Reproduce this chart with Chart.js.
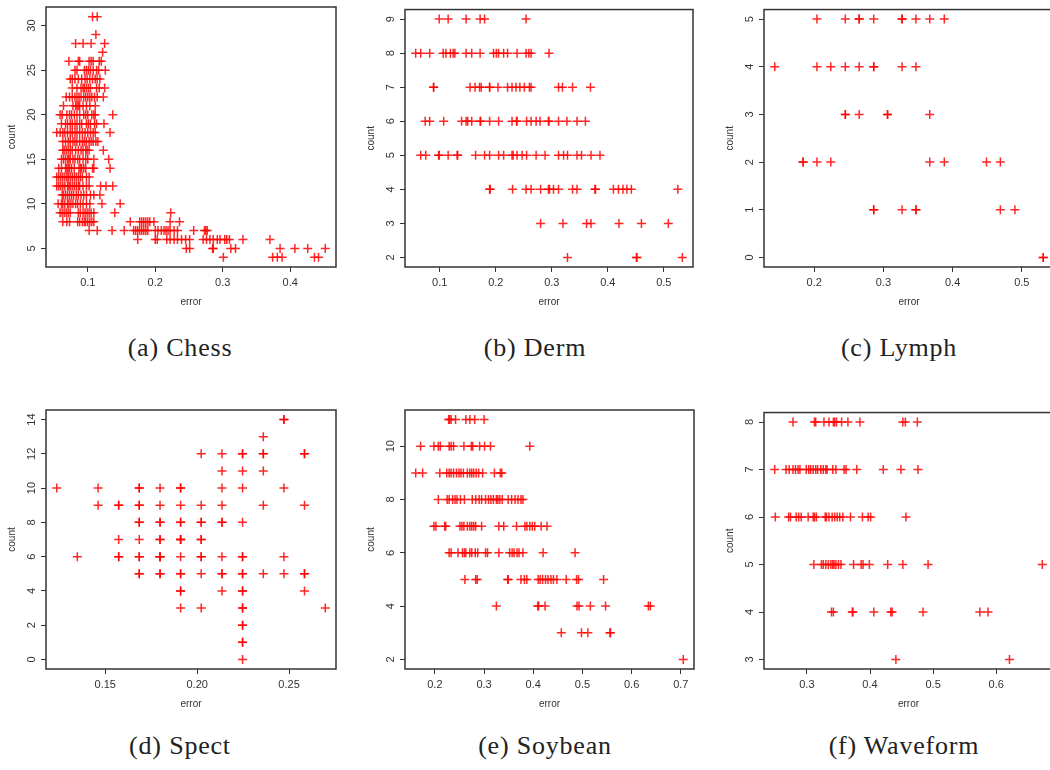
<!DOCTYPE html>
<html>
<head>
<meta charset="utf-8">
<script src="https://cdn.jsdelivr.net/npm/chart.js@4"></script>
<style>
    body { margin: 0; background: #fff; width: 1050px; height: 770px; overflow: hidden; position: relative; }
    .panel { position: absolute; }
    .caption {
        position: absolute; width: 340px; text-align: center;
        font-family: 'Liberation Serif', serif; font-size: 26px; line-height: 30px;
        letter-spacing: 0.8px; color: #222;
    }
</style>
</head>
<body>
<script>
// (a) Chess
const chessCounts = [31, 29, 28, 27, 26, 25, 24, 23, 22, 21, 20, 19, 18, 17, 16, 15, 14, 13, 12, 11, 10, 9, 8, 7, 6, 5, 4];
const chessErrors = [
    [0.107, 0.114],
    [0.112],
    [0.082, 0.093, 0.105, 0.125],
    [0.122],
    [0.072, 0.086, 0.088, 0.102, 0.105, 0.108, 0.117, 0.120],
    [0.081, 0.084, 0.095, 0.098, 0.101, 0.104, 0.108, 0.113, 0.116, 0.126],
    [0.074, 0.077, 0.081, 0.086, 0.091, 0.096, 0.099, 0.103, 0.107, 0.111, 0.114, 0.118],
    [0.077, 0.084, 0.090, 0.093, 0.095, 0.098, 0.101, 0.104, 0.113, 0.117, 0.125],
    [0.068, 0.073, 0.077, 0.081, 0.084, 0.087, 0.090, 0.094, 0.097, 0.100, 0.103, 0.106, 0.110, 0.114, 0.123],
    [0.064, 0.078, 0.082, 0.084, 0.086, 0.088, 0.093, 0.098, 0.103, 0.111],
    [0.059, 0.062, 0.069, 0.073, 0.076, 0.080, 0.084, 0.088, 0.094, 0.097, 0.100, 0.106, 0.109, 0.111, 0.137],
    [0.061, 0.067, 0.070, 0.074, 0.077, 0.081, 0.084, 0.088, 0.091, 0.098, 0.101, 0.104, 0.110, 0.113, 0.124],
    [0.054, 0.059, 0.063, 0.066, 0.070, 0.074, 0.077, 0.081, 0.084, 0.088, 0.092, 0.096, 0.100, 0.104, 0.108, 0.111, 0.133],
    [0.063, 0.067, 0.071, 0.074, 0.078, 0.081, 0.084, 0.088, 0.092, 0.095, 0.098, 0.102, 0.105, 0.108, 0.112, 0.115],
    [0.063, 0.065, 0.068, 0.071, 0.074, 0.077, 0.082, 0.086, 0.090, 0.093, 0.097, 0.099, 0.102, 0.123],
    [0.061, 0.064, 0.067, 0.070, 0.072, 0.074, 0.078, 0.081, 0.085, 0.088, 0.093, 0.097, 0.100, 0.109, 0.131],
    [0.057, 0.061, 0.067, 0.069, 0.071, 0.073, 0.076, 0.080, 0.087, 0.089, 0.091, 0.094, 0.097, 0.107, 0.109, 0.133],
    [0.054, 0.057, 0.060, 0.063, 0.066, 0.069, 0.071, 0.074, 0.077, 0.080, 0.083, 0.086, 0.089, 0.092, 0.098, 0.102],
    [0.054, 0.057, 0.060, 0.063, 0.066, 0.070, 0.072, 0.074, 0.077, 0.080, 0.083, 0.086, 0.088, 0.093, 0.098, 0.102, 0.119, 0.127, 0.137],
    [0.062, 0.064, 0.067, 0.070, 0.073, 0.076, 0.079, 0.083, 0.086, 0.090, 0.094, 0.098, 0.104, 0.109, 0.118],
    [0.056, 0.061, 0.063, 0.066, 0.070, 0.072, 0.075, 0.078, 0.082, 0.085, 0.089, 0.093, 0.098, 0.103, 0.121, 0.148],
    [0.059, 0.062, 0.065, 0.068, 0.071, 0.074, 0.086, 0.089, 0.093, 0.096, 0.099, 0.102, 0.105, 0.109, 0.140, 0.223],
    [0.063, 0.069, 0.073, 0.085, 0.088, 0.092, 0.095, 0.097, 0.100, 0.103, 0.106, 0.109, 0.163, 0.177, 0.180, 0.183, 0.186, 0.189, 0.192, 0.198, 0.222, 0.236],
    [0.102, 0.114, 0.136, 0.154, 0.168, 0.171, 0.174, 0.177, 0.180, 0.183, 0.186, 0.189, 0.200, 0.204, 0.209, 0.213, 0.216, 0.219, 0.222, 0.228, 0.233, 0.257, 0.273, 0.275, 0.277],
    [0.174, 0.200, 0.203, 0.217, 0.222, 0.228, 0.233, 0.239, 0.245, 0.251, 0.271, 0.276, 0.281, 0.286, 0.292, 0.296, 0.303, 0.306, 0.310, 0.330, 0.370],
    [0.246, 0.251, 0.285, 0.286, 0.312, 0.319, 0.385, 0.407, 0.426, 0.452],
    [0.301, 0.374, 0.381, 0.388, 0.436, 0.442]
];
const chessXTicks = ['0.1', '0.2', '0.3', '0.4'];
const chessYTicks = ['5', '10', '15', '20', '25', '30'];

// (b) Derm
const dermCounts = [9, 8, 7, 6, 5, 4, 3, 2];
const dermErrors = [
    [0.099, 0.115, 0.147, 0.172, 0.180, 0.254],
    [0.057, 0.066, 0.082, 0.106, 0.111, 0.119, 0.124, 0.127, 0.147, 0.157, 0.172, 0.196, 0.201, 0.205, 0.214, 0.221, 0.238, 0.254, 0.259, 0.263, 0.295],
    [0.089, 0.089, 0.154, 0.163, 0.171, 0.174, 0.189, 0.189, 0.204, 0.221, 0.229, 0.236, 0.243, 0.251, 0.260, 0.263, 0.312, 0.319, 0.337, 0.369],
    [0.074, 0.082, 0.107, 0.139, 0.147, 0.150, 0.157, 0.172, 0.173, 0.189, 0.205, 0.229, 0.237, 0.238, 0.255, 0.263, 0.272, 0.279, 0.294, 0.295, 0.312, 0.327, 0.345, 0.360],
    [0.066, 0.075, 0.098, 0.099, 0.115, 0.131, 0.132, 0.164, 0.180, 0.189, 0.205, 0.214, 0.229, 0.231, 0.238, 0.247, 0.255, 0.272, 0.288, 0.312, 0.321, 0.328, 0.345, 0.353, 0.370, 0.386],
    [0.189, 0.190, 0.230, 0.254, 0.263, 0.280, 0.294, 0.296, 0.303, 0.312, 0.337, 0.345, 0.377, 0.378, 0.410, 0.419, 0.427, 0.434, 0.442, 0.525],
    [0.280, 0.320, 0.362, 0.370, 0.420, 0.460, 0.508],
    [0.328, 0.451, 0.452, 0.533]
];
const dermXTicks = ['0.1', '0.2', '0.3', '0.4', '0.5'];
const dermYTicks = ['2', '3', '4', '5', '6', '7', '8', '9'];

// (c) Lymph
const lymphCounts = [5, 4, 3, 2, 1, 0];
const lymphErrors = [
    [0.204, 0.245, 0.265, 0.265, 0.286, 0.327, 0.327, 0.347, 0.367, 0.388],
    [0.143, 0.204, 0.224, 0.245, 0.265, 0.286, 0.286, 0.327, 0.347],
    [0.245, 0.245, 0.265, 0.306, 0.306, 0.367],
    [0.184, 0.184, 0.204, 0.224, 0.367, 0.388, 0.449, 0.469],
    [0.286, 0.286, 0.327, 0.347, 0.347, 0.469, 0.490],
    [0.531, 0.531]
];
const lymphXTicks = ['0.2', '0.3', '0.4', '0.5'];
const lymphYTicks = ['0', '1', '2', '3', '4', '5'];

// (d) Spect
const spectCounts = [14, 13, 12, 11, 10, 9, 8, 7, 6, 5, 4, 3, 2, 1, 0];
const spectErrors = [
    [0.2472, 0.2472],
    [0.2360],
    [0.2022, 0.2135, 0.2247, 0.2247, 0.2360, 0.2360, 0.2584, 0.2584],
    [0.2135, 0.2247, 0.2360],
    [0.1236, 0.1461, 0.1685, 0.1685, 0.1798, 0.1910, 0.1910, 0.2135, 0.2247, 0.2472],
    [0.1461, 0.1573, 0.1573, 0.1685, 0.1685, 0.1798, 0.1910, 0.2022, 0.2135, 0.2360, 0.2584],
    [0.1685, 0.1685, 0.1798, 0.1798, 0.1910, 0.1910, 0.2022, 0.2022, 0.2135, 0.2135, 0.2247],
    [0.1573, 0.1685, 0.1798, 0.1798, 0.1910, 0.1910, 0.1910, 0.2022, 0.2022],
    [0.1348, 0.1573, 0.1573, 0.1685, 0.1685, 0.1798, 0.1798, 0.1798, 0.1910, 0.2022, 0.2022, 0.2135, 0.2247, 0.2247, 0.2472],
    [0.1685, 0.1685, 0.1798, 0.1798, 0.1910, 0.1910, 0.2022, 0.2135, 0.2135, 0.2247, 0.2247, 0.2360, 0.2472, 0.2584, 0.2584],
    [0.1910, 0.1910, 0.2135, 0.2247, 0.2247, 0.2584],
    [0.1910, 0.2022, 0.2247, 0.2247, 0.2697],
    [0.2247, 0.2247],
    [0.2247, 0.2247],
    [0.2247]
];
const spectXTicks = ['0.15', '0.20', '0.25'];
const spectYTicks = ['0', '2', '4', '6', '8', '10', '12', '14'];

// (e) Soybean
const soyCounts = [11, 10, 9, 8, 7, 6, 5, 4, 3, 2];
const soyErrors = [
    [0.228, 0.230, 0.233, 0.242, 0.263, 0.271, 0.281, 0.300],
    [0.171, 0.198, 0.207, 0.211, 0.229, 0.233, 0.238, 0.259, 0.274, 0.277, 0.291, 0.301, 0.313, 0.393],
    [0.161, 0.175, 0.210, 0.224, 0.229, 0.233, 0.238, 0.244, 0.249, 0.253, 0.258, 0.266, 0.271, 0.275, 0.279, 0.284, 0.289, 0.297, 0.321, 0.333, 0.336],
    [0.207, 0.225, 0.229, 0.236, 0.241, 0.245, 0.252, 0.260, 0.276, 0.283, 0.290, 0.295, 0.303, 0.309, 0.314, 0.319, 0.325, 0.328, 0.332, 0.337, 0.349, 0.356, 0.363, 0.369, 0.375, 0.379],
    [0.198, 0.202, 0.220, 0.222, 0.251, 0.255, 0.259, 0.266, 0.271, 0.275, 0.279, 0.283, 0.295, 0.330, 0.340, 0.366, 0.383, 0.387, 0.393, 0.398, 0.403, 0.416, 0.428],
    [0.229, 0.233, 0.247, 0.256, 0.260, 0.263, 0.271, 0.275, 0.282, 0.287, 0.303, 0.307, 0.330, 0.352, 0.357, 0.361, 0.367, 0.371, 0.379, 0.420, 0.485],
    [0.261, 0.283, 0.286, 0.348, 0.349, 0.375, 0.382, 0.387, 0.410, 0.414, 0.419, 0.425, 0.430, 0.436, 0.441, 0.448, 0.467, 0.488, 0.492, 0.543],
    [0.325, 0.409, 0.411, 0.424, 0.489, 0.493, 0.516, 0.547, 0.634, 0.638],
    [0.457, 0.498, 0.511, 0.556, 0.557],
    [0.705]
];
const soyXTicks = ['0.2', '0.3', '0.4', '0.5', '0.6', '0.7'];
const soyYTicks = ['2', '4', '6', '8', '10'];

// (f) Waveform
const waveCounts = [8, 7, 6, 5, 4, 3];
const waveErrors = [
    [0.278, 0.312, 0.314, 0.327, 0.335, 0.342, 0.344, 0.347, 0.355, 0.365, 0.384, 0.452, 0.456, 0.475],
    [0.249, 0.267, 0.272, 0.278, 0.282, 0.286, 0.289, 0.299, 0.303, 0.306, 0.310, 0.314, 0.317, 0.322, 0.326, 0.330, 0.332, 0.341, 0.346, 0.359, 0.362, 0.379, 0.421, 0.449, 0.476],
    [0.250, 0.271, 0.274, 0.283, 0.287, 0.291, 0.302, 0.310, 0.312, 0.315, 0.329, 0.331, 0.335, 0.340, 0.344, 0.348, 0.352, 0.357, 0.369, 0.388, 0.397, 0.401, 0.457],
    [0.311, 0.323, 0.326, 0.330, 0.334, 0.338, 0.341, 0.343, 0.346, 0.350, 0.354, 0.374, 0.386, 0.389, 0.399, 0.428, 0.452, 0.492, 0.673],
    [0.339, 0.342, 0.372, 0.373, 0.406, 0.433, 0.435, 0.484, 0.574, 0.587],
    [0.441, 0.621]
];
const waveXTicks = ['0.3', '0.4', '0.5', '0.6'];
const waveYTicks = ['3', '4', '5', '6', '7', '8'];

// box = [left, top, right, bottom] of the plot frame on the page
const panels = [
    { counts: chessCounts, errors: chessErrors, xTicks: chessXTicks, yTicks: chessYTicks, box: [46, 7, 336, 267], caption: '(a) Chess', capX: 180, capY: 348 },
    { counts: dermCounts, errors: dermErrors, xTicks: dermXTicks, yTicks: dermYTicks, box: [405, 7, 693, 267], caption: '(b) Derm', capX: 535, capY: 348 },
    { counts: lymphCounts, errors: lymphErrors, xTicks: lymphXTicks, yTicks: lymphYTicks, box: [764, 7, 1054, 267], caption: '(c) Lymph', capX: 899, capY: 348 },
    { counts: spectCounts, errors: spectErrors, xTicks: spectXTicks, yTicks: spectYTicks, box: [46, 410, 336, 669], caption: '(d) Spect', capX: 180, capY: 746 },
    { counts: soyCounts, errors: soyErrors, xTicks: soyXTicks, yTicks: soyYTicks, box: [405, 410, 694, 669], caption: '(e) Soybean', capX: 545, capY: 746 },
    { counts: waveCounts, errors: waveErrors, xTicks: waveXTicks, yTicks: waveYTicks, box: [764, 410, 1053, 669], caption: '(f) Waveform', capX: 904, capY: 746 }
];

const AXIS_FONT = 'Liberation Sans, Arial, sans-serif';
const INK = '#333';

// frame around the plotting region, like R's box()
const boxPlugin = {
    id: 'box',
    afterDraw(chart) {
        const { ctx, chartArea: a } = chart;
        ctx.save();
        ctx.strokeStyle = INK;
        ctx.lineWidth = 1.5;
        ctx.strokeRect(a.left, a.top, a.right - a.left, a.bottom - a.top);
        ctx.restore();
    }
};

function padRange(values) {
    const lo = Math.min(...values), hi = Math.max(...values);
    const d = (hi - lo) * 0.04;
    return [lo - d, hi + d];
}

function makePanel(p) {
    const points = [];
    p.counts.forEach((c, i) => p.errors[i].forEach(e => points.push({ x: e, y: c })));

    const [xMin, xMax] = padRange(points.map(d => d.x));
    const [yMin, yMax] = padRange(points.map(d => d.y));
    const [L, T, R, B] = p.box;

    const wrap = document.createElement('div');
    wrap.className = 'panel';
    wrap.style.left = (L - 50) + 'px';
    wrap.style.top = (T - 10) + 'px';
    wrap.style.width = (R - L + 60) + 'px';
    wrap.style.height = (B - T + 60) + 'px';
    const canvas = document.createElement('canvas');
    wrap.appendChild(canvas);
    document.body.appendChild(wrap);

    const cap = document.createElement('div');
    cap.className = 'caption';
    cap.textContent = p.caption;
    cap.style.left = (p.capX - 170) + 'px';
    cap.style.top = (p.capY - 15) + 'px';
    document.body.appendChild(cap);

    const widest = Math.max(...p.yTicks.map(t => t.length));

    new Chart(canvas, {
        type: 'scatter',
        data: {
            datasets: [{
                data: points,
                pointStyle: 'cross',
                pointRadius: 4.5,
                pointHoverRadius: 4.5,
                borderColor: 'rgba(255, 0, 0, 0.85)',
                backgroundColor: 'rgba(255, 0, 0, 0.85)',
                borderWidth: 1.5
            }]
        },
        options: {
            responsive: true,
            maintainAspectRatio: false,
            animation: false,
            events: [],
            layout: { padding: { left: 0, top: 10, right: 10, bottom: 0 } },
            plugins: { legend: { display: false }, tooltip: { enabled: false } },
            scales: {
                x: {
                    type: 'linear',
                    min: xMin,
                    max: xMax,
                    afterFit: s => { s.height = 50; },
                    afterBuildTicks: s => { s.ticks = p.xTicks.map(t => ({ value: Number(t) })); },
                    grid: { drawOnChartArea: false, drawTicks: true, tickLength: 5, color: INK },
                    border: { display: false },
                    ticks: {
                        autoSkip: false,
                        maxRotation: 0,
                        padding: 4,
                        color: INK,
                        font: { family: AXIS_FONT, size: 11 },
                        callback: v => p.xTicks.find(t => Math.abs(Number(t) - v) < 1e-9)
                    },
                    title: { display: true, text: 'error', color: INK, font: { family: AXIS_FONT, size: 10 }, padding: { top: 10, bottom: 9 } }
                },
                y: {
                    type: 'linear',
                    min: yMin,
                    max: yMax,
                    afterFit: s => { s.width = 50; },
                    afterBuildTicks: s => { s.ticks = p.yTicks.map(t => ({ value: Number(t) })); },
                    grid: { drawOnChartArea: false, drawTicks: true, tickLength: 5, color: INK },
                    border: { display: false },
                    ticks: {
                        autoSkip: false,
                        minRotation: 90,
                        maxRotation: 90,
                        crossAlign: 'center',
                        padding: 9 - widest * 3.05,
                        color: INK,
                        font: { family: AXIS_FONT, size: 11 },
                        callback: v => p.yTicks.find(t => Math.abs(Number(t) - v) < 1e-9)
                    },
                    title: { display: true, text: 'count', color: INK, font: { family: AXIS_FONT, size: 10 }, padding: { top: 10, bottom: 9 } }
                }
            }
        },
        plugins: [boxPlugin]
    });
}

panels.forEach(makePanel);
</script>
</body>
</html>
